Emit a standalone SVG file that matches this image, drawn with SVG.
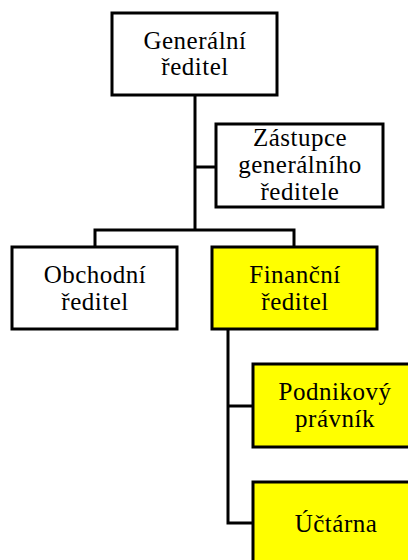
<svg xmlns="http://www.w3.org/2000/svg" width="408" height="560" viewBox="0 0 408 560">
  <style>
    .box { stroke: #000; stroke-width: 3; }
    .plain { fill: #fff; }
    .hl { fill: #ffff00; }
    .lbl { font-family: "Liberation Serif", "Times New Roman", serif; font-size: 25px; letter-spacing: 0.5px; fill: #000; text-anchor: middle; }
    .wire { fill: none; stroke: #000; stroke-width: 3; }
  </style>
  <rect width="408" height="560" fill="#fff"/>
  <g id="connectors">
    <path class="wire" d="M195 95 V230"/>
    <path class="wire" d="M195 167 H216"/>
    <path class="wire" d="M95 247 V230 H294 V247"/>
    <path class="wire" d="M228 329 V523 H253"/>
    <path class="wire" d="M228 406 H253"/>
  </g>
  <g id="generalni-reditel">
    <rect class="box plain" x="112" y="13" width="165" height="82"/>
    <text class="lbl" x="195" y="49">Generální</text>
    <text class="lbl" x="195" y="75">ředitel</text>
  </g>
  <g id="zastupce">
    <rect class="box plain" x="216" y="124" width="167" height="83"/>
    <text class="lbl" x="300" y="146">Zástupce</text>
    <text class="lbl" x="300" y="173">generálního</text>
    <text class="lbl" x="300" y="200">ředitele</text>
  </g>
  <g id="obchodni-reditel">
    <rect class="box plain" x="12" y="247" width="165" height="82"/>
    <text class="lbl" x="95" y="283">Obchodní</text>
    <text class="lbl" x="95" y="310">ředitel</text>
  </g>
  <g id="financni-reditel">
    <rect class="box hl" x="212" y="247" width="165" height="82"/>
    <text class="lbl" x="295" y="283">Finanční</text>
    <text class="lbl" x="295" y="310">ředitel</text>
  </g>
  <g id="podnikovy-pravnik">
    <rect class="box hl" x="253" y="364" width="165" height="83"/>
    <text class="lbl" x="335" y="400">Podnikový</text>
    <text class="lbl" x="335" y="427">právník</text>
  </g>
  <g id="uctarna">
    <rect class="box hl" x="253" y="482" width="165" height="90"/>
    <text class="lbl" x="336" y="532">Účtárna</text>
  </g>
</svg>
